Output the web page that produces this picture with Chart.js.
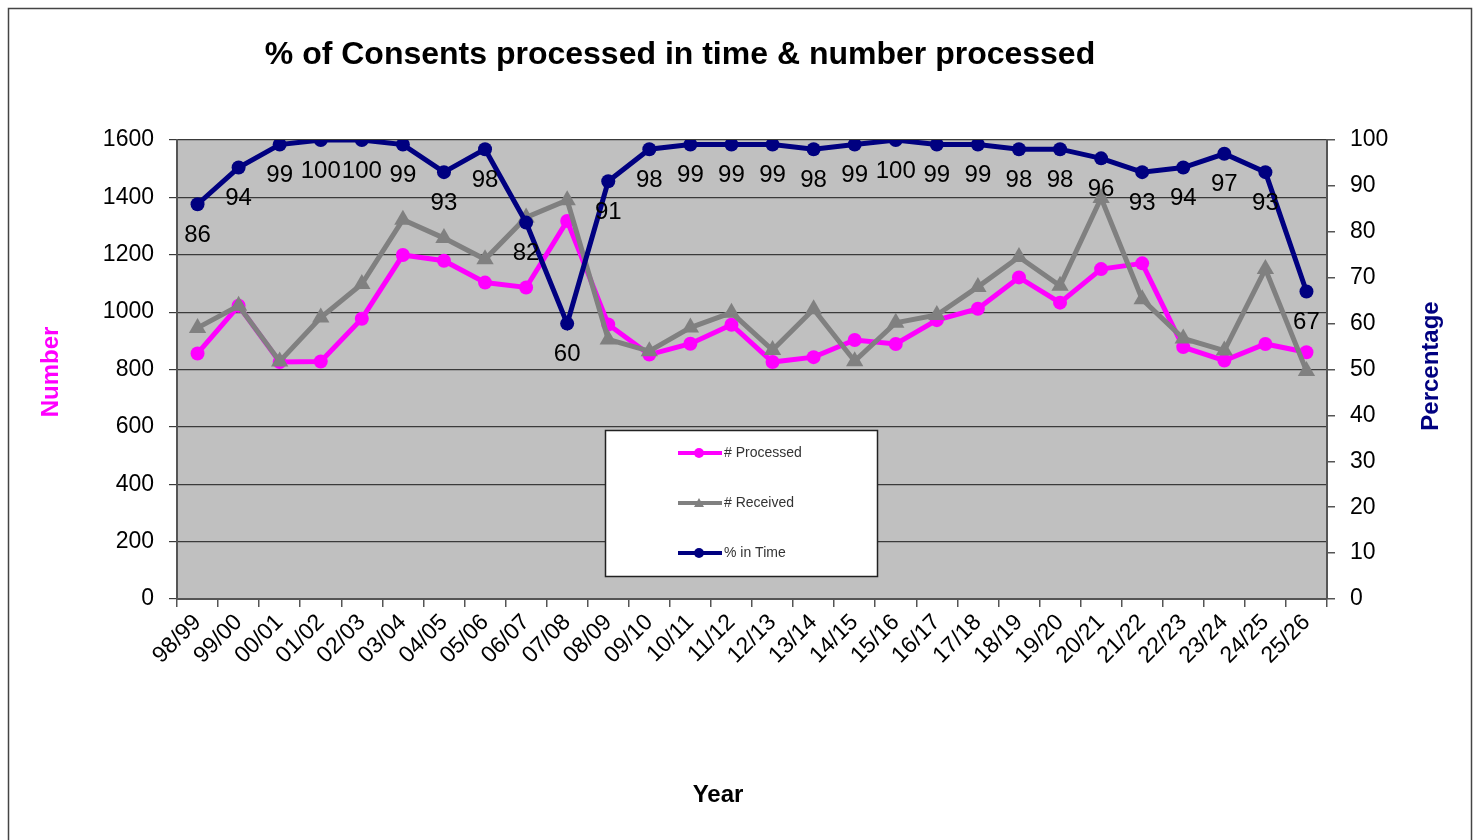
<!DOCTYPE html>
<html>
<head>
<meta charset="utf-8">
<script src="https://cdn.jsdelivr.net/npm/chart.js@4.4.0/dist/chart.umd.min.js"></script>
<style>
  html, body { margin: 0; padding: 0; background: #fff; }
  #wrap { width: 1484px; height: 840px; position: relative; }
</style>
</head>
<body>
<div id="wrap"><canvas id="consentChart" width="1484" height="840"></canvas></div>
<script>
var years = ['98/99', '99/00', '00/01', '01/02', '02/03', '03/04', '04/05', '05/06', '06/07', '07/08',
  '08/09', '09/10', '10/11', '11/12', '12/13', '13/14', '14/15', '15/16', '16/17', '17/18',
  '18/19', '19/20', '20/21', '21/22', '22/23', '23/24', '24/25', '25/26'];
var processed = [856, 1022, 826, 828, 977, 1199, 1179, 1103, 1086, 1318,
  957, 852, 890, 956, 826, 843, 903, 889, 972, 1012,
  1121, 1033, 1150, 1170, 878, 831, 889, 860];
var received = [945, 1022, 828, 981, 1098, 1322, 1258, 1184, 1330, 1390,
  905, 864, 946, 998, 868, 1010, 829, 963, 990, 1088,
  1192, 1092, 1398, 1045, 908, 866, 1150, 795];
var pctInTime = [86, 94, 99, 100, 100, 99, 93, 98, 82, 60,
  91, 98, 99, 99, 99, 98, 99, 100, 99, 99,
  98, 98, 96, 93, 94, 97, 93, 67];
var numberMax = 1600, numberStep = 200;
var pctMax = 100, pctStep = 10;

var FONT = "'Liberation Sans', Arial, sans-serif";

// plot background, title, axis titles, legend box, value labels
var extras = {
  id: 'extras',
  beforeDraw: function (chart) {
    var ctx = chart.ctx, a = chart.chartArea;
    ctx.save();
    ctx.fillStyle = '#C0C0C0';
    ctx.fillRect(a.left, a.top, a.right - a.left, a.bottom - a.top);
    ctx.restore();
  },
  afterDatasetsDraw: function (chart) {
    var ctx = chart.ctx;
    var meta = chart.getDatasetMeta(2);
    ctx.save();
    ctx.font = '24px ' + FONT;
    ctx.fillStyle = '#000';
    ctx.textAlign = 'center';
    ctx.textBaseline = 'middle';
    meta.data.forEach(function (pt, i) {
      ctx.fillText(pctInTime[i], pt.x, pt.y + 31);
    });
    ctx.restore();
  },
  afterDraw: function (chart) {
    var ctx = chart.ctx;
    ctx.save();
    // outer frame
    ctx.strokeStyle = '#444';
    ctx.lineWidth = 1.5;
    ctx.strokeRect(8.5, 8.5, 1463, 840);

    ctx.textAlign = 'center';
    ctx.textBaseline = 'middle';
    ctx.fillStyle = '#000';
    ctx.font = 'bold 32px ' + FONT;
    ctx.fillText('% of Consents processed in time & number processed', 680, 55);

    ctx.font = 'bold 24px ' + FONT;
    ctx.fillText('Year', 718, 795);

    ctx.save();
    ctx.translate(51, 372);
    ctx.rotate(-Math.PI / 2);
    ctx.fillStyle = '#FF00FF';
    ctx.fillText('Number', 0, 0);
    ctx.restore();

    ctx.save();
    ctx.translate(1431, 366);
    ctx.rotate(-Math.PI / 2);
    ctx.fillStyle = '#000080';
    ctx.fillText('Percentage', 0, 0);
    ctx.restore();

    // legend
    ctx.fillStyle = '#fff';
    ctx.fillRect(605, 430, 273, 147);
    ctx.strokeStyle = '#222';
    ctx.lineWidth = 1.5;
    ctx.strokeRect(605.5, 430.5, 272, 146);
    var items = [
      { text: '# Processed', color: '#FF00FF', style: 'circle', y: 453 },
      { text: '# Received', color: '#808080', style: 'triangle', y: 503 },
      { text: '% in Time', color: '#000080', style: 'circle', y: 553 }
    ];
    items.forEach(function (it) {
      ctx.strokeStyle = it.color;
      ctx.lineWidth = 4;
      ctx.beginPath();
      ctx.moveTo(678, it.y);
      ctx.lineTo(722, it.y);
      ctx.stroke();
      ctx.fillStyle = it.color;
      ctx.beginPath();
      if (it.style === 'circle') {
        ctx.arc(699, it.y, 5, 0, Math.PI * 2);
      } else {
        ctx.moveTo(699, it.y - 5);
        ctx.lineTo(704, it.y + 4);
        ctx.lineTo(694, it.y + 4);
        ctx.closePath();
      }
      ctx.fill();
      ctx.fillStyle = '#333';
      ctx.font = '14px ' + FONT;
      ctx.textAlign = 'left';
      ctx.fillText(it.text, 724, it.y);
    });
    ctx.restore();
  }
};

var ctx = document.getElementById('consentChart').getContext('2d');
var chart = new Chart(ctx, {
  type: 'line',
  data: {
    labels: years,
    datasets: [{
      label: '# Processed',
      data: processed,
      yAxisID: 'y',
      borderColor: '#FF00FF',
      backgroundColor: '#FF00FF',
      borderWidth: 5,
      pointStyle: 'circle',
      pointRadius: 7,
      pointBorderWidth: 0,
      tension: 0,
      order: 3
    }, {
      label: '# Received',
      data: received,
      yAxisID: 'y',
      borderColor: '#808080',
      backgroundColor: '#808080',
      borderWidth: 5,
      pointStyle: 'triangle',
      pointRadius: 10,
      pointBorderWidth: 0,
      tension: 0,
      order: 2
    }, {
      label: '% in Time',
      data: pctInTime,
      yAxisID: 'y1',
      borderColor: '#000080',
      backgroundColor: '#000080',
      borderWidth: 5,
      pointStyle: 'circle',
      pointRadius: 7,
      pointBorderWidth: 0,
      tension: 0,
      order: 1
    }]
  },
  options: {
    responsive: false,
    animation: false,
    layout: { padding: { top: 140, left: 0, right: 0, bottom: 0 } },
    scales: {
      x: {
        offset: true,
        grid: {
          offset: true,
          drawOnChartArea: false,
          drawTicks: true,
          tickLength: 8,
          color: '#555',
          lineWidth: 1.5
        },
        border: { display: true, color: '#555', width: 2 },
        ticks: {
          autoSkip: false,
          minRotation: 45,
          maxRotation: 45,
          color: '#000',
          padding: 2,
          font: { family: FONT, size: 23 }
        },
        afterFit: function (scale) { scale.height = 241; }
      },
      y: {
        position: 'left',
        min: 0,
        max: numberMax,
        ticks: {
          stepSize: numberStep,
          color: '#000',
          padding: 15,
          font: { family: FONT, size: 23 },
          callback: function (v) { return String(v); }
        },
        grid: {
          color: '#3a3a3a',
          lineWidth: 1.2,
          tickLength: 8
        },
        border: { display: true, color: '#555', width: 2 },
        afterFit: function (scale) { scale.width = 177; }
      },
      y1: {
        position: 'right',
        min: 0,
        max: pctMax,
        ticks: {
          stepSize: pctStep,
          color: '#000',
          padding: 15,
          font: { family: FONT, size: 23 },
          callback: function (v) { return String(v); }
        },
        grid: {
          drawOnChartArea: false,
          color: '#555',
          lineWidth: 1.5,
          tickLength: 8
        },
        border: { display: true, color: '#555', width: 2 },
        afterFit: function (scale) { scale.width = 157; }
      }
    },
    plugins: {
      legend: { display: false },
      title: { display: false },
      tooltip: { enabled: false }
    }
  },
  plugins: [extras]
});
</script>
</body>
</html>
